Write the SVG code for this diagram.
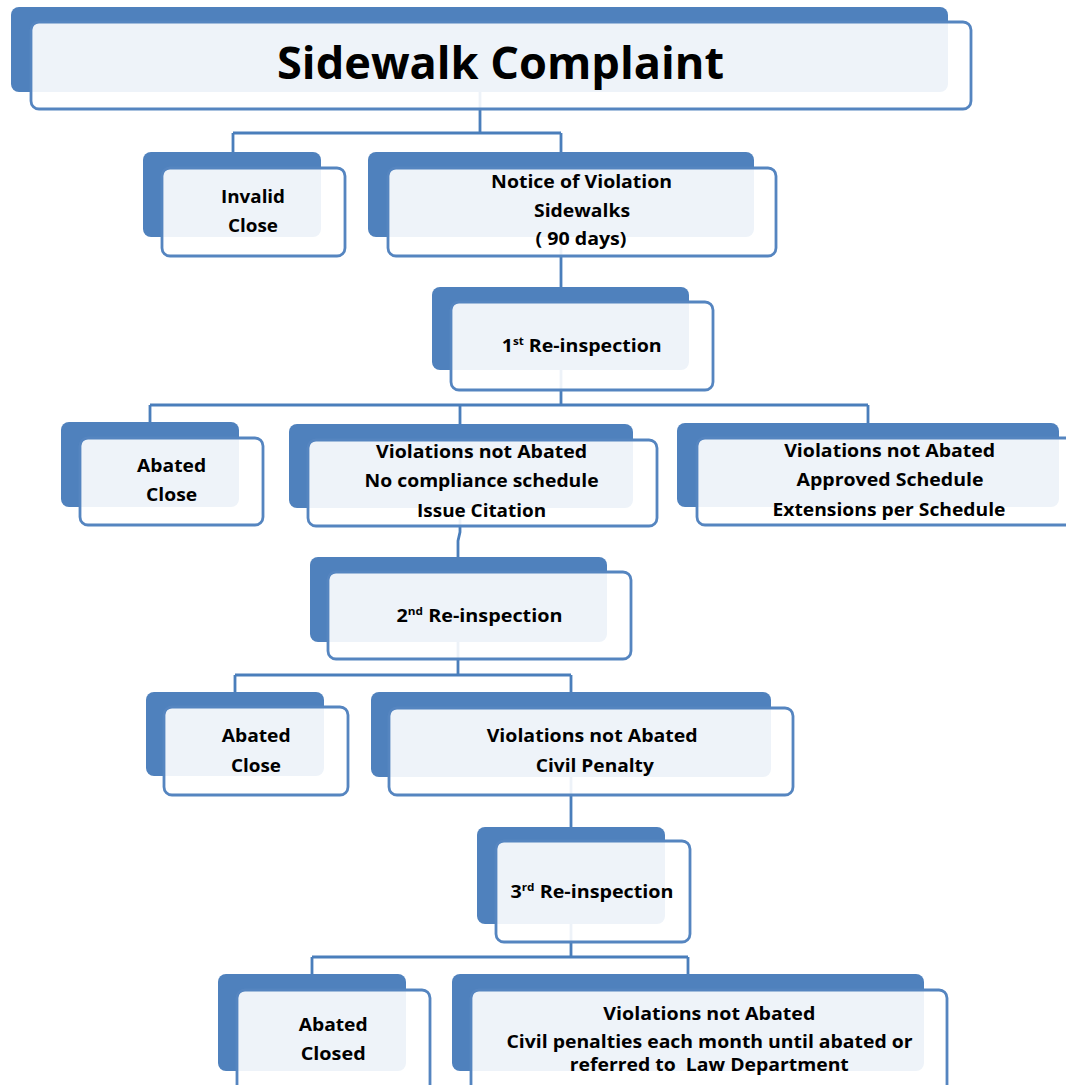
<svg xmlns="http://www.w3.org/2000/svg" width="1066" height="1085" viewBox="0 0 1066 1085">
<style>
.bg{fill:#ffffff}
.conn{fill:none;stroke:#4A7EBB;stroke-width:2.8}
.back{fill:#4F81BD}
.front{fill:#ffffff;fill-opacity:0.9;stroke:#5585C0;stroke-width:2.8}
text{font-family:"Open Sans","DejaVu Sans",sans-serif;font-weight:700;fill:#000000;text-anchor:middle;font-size:18.5px;white-space:pre}
.title{font-size:44px}
.sup{font-size:11px}
.tight{font-size:17px}
</style>
<rect class="bg" x="0" y="0" width="1066" height="1085"/>
<g id="connectors">
<path class="conn" d="M480,92 V133 M233,133 H561 M233,133 V152 M561,133 V152"/>
<path class="conn" d="M561,237 V287"/>
<path class="conn" d="M561,370 V405 M150,405 H868 M150,405 V422 M460,405 V424 M868,405 V423"/>
<path class="conn" d="M460,508 V532 L458,541 V557"/>
<path class="conn" d="M458,641 V675 M235,675 H571 M235,675 V692 M571,675 V692"/>
<path class="conn" d="M571,776 V827"/>
<path class="conn" d="M571,924 V957 M312,957 H688 M312,957 V974 M688,957 V974"/>
</g>
<g id="n-title">
<rect class="back" x="11" y="7" width="937" height="85" rx="8"/>
<rect class="front" x="31" y="22" width="940" height="87" rx="8"/>
<text class="title" x="500.5" y="79" textLength="447" lengthAdjust="spacingAndGlyphs">Sidewalk Complaint</text>
</g>
<g id="n-invalid">
<rect class="back" x="143" y="152" width="178" height="85" rx="8"/>
<rect class="front" x="162" y="168" width="183" height="88" rx="8"/>
<text x="253" y="203" textLength="64" lengthAdjust="spacingAndGlyphs">Invalid</text>
<text x="253" y="232" textLength="50" lengthAdjust="spacingAndGlyphs">Close</text>
</g>
<g id="n-notice">
<rect class="back" x="368" y="152" width="386" height="85" rx="8"/>
<rect class="front" x="388" y="168" width="388" height="88" rx="8"/>
<text x="581.6" y="188" textLength="181" lengthAdjust="spacingAndGlyphs">Notice of Violation</text>
<text x="582" y="217" textLength="96" lengthAdjust="spacingAndGlyphs">Sidewalks</text>
<text x="581" y="245" textLength="91" lengthAdjust="spacingAndGlyphs">( 90 days)</text>
</g>
<g id="n-reinspect1">
<rect class="back" x="432" y="287" width="257" height="83" rx="8"/>
<rect class="front" x="451" y="302" width="262" height="88" rx="8"/>
<text x="581.7" y="352" textLength="160" lengthAdjust="spacingAndGlyphs">1<tspan class="sup" dy="-7">st</tspan><tspan dy="7"> Re-inspection</tspan></text>
</g>
<g id="n-abated1">
<rect class="back" x="61" y="422" width="178" height="85" rx="8"/>
<rect class="front" x="80" y="438" width="183" height="87" rx="8"/>
<text x="171.6" y="472" textLength="69" lengthAdjust="spacingAndGlyphs">Abated</text>
<text x="171.6" y="501" textLength="51" lengthAdjust="spacingAndGlyphs">Close</text>
</g>
<g id="n-citation">
<rect class="back" x="289" y="424" width="344" height="84" rx="8"/>
<rect class="front" x="308" y="440" width="349" height="86" rx="8"/>
<text x="481.6" y="458" textLength="211" lengthAdjust="spacingAndGlyphs">Violations not Abated</text>
<text x="481.6" y="487" textLength="234" lengthAdjust="spacingAndGlyphs">No compliance schedule</text>
<text x="481.6" y="517" textLength="129" lengthAdjust="spacingAndGlyphs">Issue Citation</text>
</g>
<g id="n-schedule">
<rect class="back" x="677" y="423" width="382" height="84" rx="8"/>
<rect class="front" x="697" y="438" width="390" height="87" rx="8"/>
<text x="889.7" y="457" textLength="211" lengthAdjust="spacingAndGlyphs">Violations not Abated</text>
<text x="890" y="486" textLength="187" lengthAdjust="spacingAndGlyphs">Approved Schedule</text>
<text x="889" y="516" textLength="233" lengthAdjust="spacingAndGlyphs">Extensions per Schedule</text>
</g>
<g id="n-reinspect2">
<rect class="back" x="310" y="557" width="297" height="85" rx="8"/>
<rect class="front" x="328" y="572" width="303" height="87" rx="8"/>
<text x="479.5" y="622" textLength="166" lengthAdjust="spacingAndGlyphs">2<tspan class="sup" dy="-7">nd</tspan><tspan dy="7"> Re-inspection</tspan></text>
</g>
<g id="n-abated2">
<rect class="back" x="146" y="692" width="178" height="84" rx="8"/>
<rect class="front" x="164" y="707" width="184" height="88" rx="8"/>
<text x="256.2" y="742" textLength="69" lengthAdjust="spacingAndGlyphs">Abated</text>
<text x="256" y="772" textLength="50" lengthAdjust="spacingAndGlyphs">Close</text>
</g>
<g id="n-penalty">
<rect class="back" x="371" y="692" width="400" height="85" rx="8"/>
<rect class="front" x="389" y="708" width="404" height="87" rx="8"/>
<text x="592.2" y="742" textLength="211" lengthAdjust="spacingAndGlyphs">Violations not Abated</text>
<text x="594.8" y="772" textLength="118" lengthAdjust="spacingAndGlyphs">Civil Penalty</text>
</g>
<g id="n-reinspect3">
<rect class="back" x="477" y="827" width="188" height="97" rx="8"/>
<rect class="front" x="496" y="841" width="194" height="101" rx="8"/>
<text x="592" y="898" textLength="163" lengthAdjust="spacingAndGlyphs">3<tspan class="sup" dy="-7">rd</tspan><tspan dy="7"> Re-inspection</tspan></text>
</g>
<g id="n-abated3">
<rect class="back" x="218" y="974" width="188" height="97" rx="8"/>
<rect class="front" x="237" y="990" width="193" height="110" rx="8"/>
<text x="333.2" y="1031" textLength="69" lengthAdjust="spacingAndGlyphs">Abated</text>
<text x="333.2" y="1060" textLength="65" lengthAdjust="spacingAndGlyphs">Closed</text>
</g>
<g id="n-law">
<rect class="back" x="452" y="974" width="472" height="97" rx="8"/>
<rect class="front" x="471" y="990" width="476" height="110" rx="8"/>
<text x="709.3" y="1020" textLength="212" lengthAdjust="spacingAndGlyphs">Violations not Abated</text>
<text class="tight" x="709.5" y="1048" textLength="406" lengthAdjust="spacingAndGlyphs">Civil penalties each month until abated or</text>
<text class="tight" x="709.3" y="1071" textLength="279" lengthAdjust="spacingAndGlyphs">referred to  Law Department</text>
</g>
</svg>
